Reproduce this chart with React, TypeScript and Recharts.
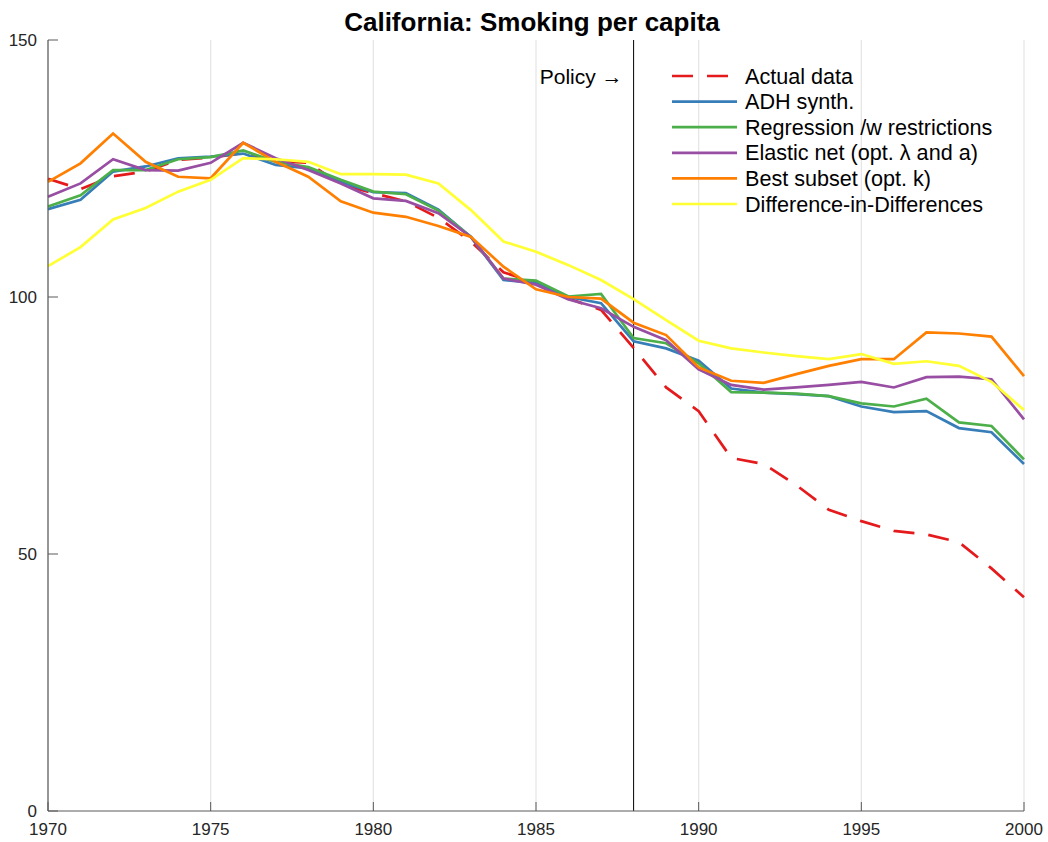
import { LineChart, Line, XAxis, YAxis, CartesianGrid, ReferenceLine, Legend } from "recharts";

const FONT = "'Liberation Sans', Arial, Helvetica, sans-serif";

const years = [
  1970, 1971, 1972, 1973, 1974, 1975, 1976, 1977, 1978, 1979, 1980, 1981, 1982, 1983, 1984, 1985,
  1986, 1987, 1988, 1989, 1990, 1991, 1992, 1993, 1994, 1995, 1996, 1997, 1998, 1999, 2000,
];

// cigarette packs per capita, observed
const actual = [
  123, 121, 123.5, 124.4, 126.7, 127.1, 128, 126.4, 126.1, 121.9, 120.2, 118.6, 115.4, 110.8, 104.8, 102.8,
  99.7, 97.5, 90.1, 82.4, 77.8, 68.7, 67.5, 63.4, 58.6, 56.4, 54.5, 53.8, 52.3, 47.2, 41.6,
];

const adhSynth = [
  117.1, 118.9, 124.4, 125.4, 127.0, 127.3, 127.9, 125.7, 125.0, 122.4, 120.4, 120.2, 117.0, 111.7, 103.3, 102.7,
  100.0, 98.8, 91.4, 90.0, 87.6, 82.2, 81.4, 81.1, 80.7, 78.7, 77.6, 77.8, 74.5, 73.7, 67.5,
];

const regression = [
  117.6, 119.8, 124.7, 124.7, 126.8, 127.2, 128.5, 126.3, 125.3, 122.8, 120.5, 120.0, 116.8, 111.7, 103.6, 103.2,
  100.1, 100.6, 92.0, 91.0, 87.1, 81.5, 81.4, 81.2, 80.7, 79.3, 78.7, 80.2, 75.6, 74.9, 68.4,
];

const elasticNet = [
  119.5, 122.1, 126.8, 124.7, 124.6, 126.1, 130.0, 127.0, 124.7, 122.1, 119.2, 118.7, 116.3, 111.7, 103.6, 102.4,
  99.5, 97.8, 94.2, 91.6, 85.9, 82.9, 82.0, 82.4, 82.9, 83.5, 82.4, 84.4, 84.5, 84.0, 76.2,
];

const bestSubset = [
  122.4, 126.0, 131.8, 126.3, 123.4, 123.1, 130.0, 126.3, 123.4, 118.6, 116.4, 115.6, 113.8, 111.7, 105.9, 101.5,
  100.0, 99.7, 95.0, 92.6, 86.3, 83.7, 83.3, 85.0, 86.6, 87.9, 87.9, 93.1, 92.9, 92.3, 84.6,
];

const diffInDiff = [
  106.0, 109.7, 115.1, 117.3, 120.5, 122.8, 127.0, 126.8, 126.3, 123.9, 123.9, 123.8, 122.1, 116.9, 110.8, 108.8,
  106.2, 103.3, 99.6, 95.5, 91.5, 90.0, 89.2, 88.5, 87.9, 88.9, 87.0, 87.5, 86.6, 83.5, 78.0,
];

const xTicks = [1970, 1975, 1980, 1985, 1990, 1995, 2000];
const yTicks = [0, 50, 100, 150];
const policyYear = 1988;

const series = [
  { key: "actual", name: "Actual data", color: "#e41a1c", dash: "21 14" },
  { key: "adh", name: "ADH synth.", color: "#377eb8" },
  { key: "regression", name: "Regression /w restrictions", color: "#4daf4a" },
  { key: "elastic", name: "Elastic net (opt. λ and a)", color: "#984ea3" },
  { key: "best", name: "Best subset (opt. k)", color: "#ff7f00" },
  { key: "did", name: "Difference-in-Differences", color: "#ffff33" },
];

const rows = years.map((year, i) => ({
  year,
  actual: actual[i],
  adh: adhSynth[i],
  regression: regression[i],
  elastic: elasticNet[i],
  best: bestSubset[i],
  did: diffInDiff[i],
}));

const AXIS = "#5a5a5a";
const TEXT = "#262626";

const XTick = ({ x, y, payload }: any) => (
  <g>
    <line x1={x} x2={x} y1={y} y2={y - 9} stroke={AXIS} />
    <text x={x} y={y + 24} textAnchor="middle" fontSize={17} fontFamily={FONT} fill={TEXT}>
      {payload.value}
    </text>
  </g>
);

const YTick = ({ x, y, payload }: any) => (
  <g>
    <line x1={x} x2={x + 10} y1={y} y2={y} stroke={AXIS} />
    <text x={x - 11} y={y + 6} textAnchor="end" fontSize={17} fontFamily={FONT} fill={TEXT}>
      {payload.value}
    </text>
  </g>
);

const PolicyLabel = ({ viewBox }: any) => (
  <text x={viewBox.x - 11} y={viewBox.y + 44} textAnchor="end" fontSize={21} fontFamily={FONT} fill="#000">
    Policy →
  </text>
);

const LegendBox = () => (
  <svg width={380} height={160}>
    {series.map((s, i) => {
      const cy = 14 + i * 25.6;
      return (
        <g key={s.key}>
          <line
            x1={7}
            x2={s.dash ? 65 : 72}
            y1={cy}
            y2={cy}
            stroke={s.color}
            strokeWidth={2.7}
            strokeDasharray={s.dash}
          />
          <text x={80} y={cy + 7.5} fontSize={21.6} fontFamily={FONT} fill="#000">
            {s.name}
          </text>
        </g>
      );
    })}
  </svg>
);

export default function App() {
  return (
    <div style={{ position: "absolute", left: 0, top: 0, width: 1048, height: 842, background: "#fff" }}>
      <svg width={1048} height={40} style={{ position: "absolute", left: 0, top: 0 }}>
        <text x={532} y={31} textAnchor="middle" fontSize={26} fontWeight="bold" fontFamily={FONT} fill="#000">
          California: Smoking per capita
        </text>
      </svg>
      <LineChart width={1048} height={842} data={rows} margin={{ top: 40, right: 24, bottom: 0, left: 0 }}>
        <CartesianGrid vertical horizontal={false} stroke="#e4e4e4" strokeWidth={1.2} verticalValues={xTicks} />
        <XAxis
          dataKey="year"
          type="number"
          domain={[1970, 2000]}
          ticks={xTicks}
          height={31}
          tickSize={0}
          tickMargin={0}
          tickLine={false}
          tick={(p: any) => <XTick {...p} />}
          axisLine={{ stroke: AXIS, strokeWidth: 1.2 }}
        />
        <YAxis
          type="number"
          domain={[0, 150]}
          ticks={yTicks}
          width={48}
          tickSize={0}
          tickMargin={0}
          tickLine={false}
          tick={(p: any) => <YTick {...p} />}
          axisLine={{ stroke: AXIS, strokeWidth: 1.2 }}
        />
        <ReferenceLine x={policyYear} stroke="#000" strokeWidth={1} label={<PolicyLabel />} />
        {series.map((s) => (
          <Line
            key={s.key}
            type="linear"
            dataKey={s.key}
            name={s.name}
            stroke={s.color}
            strokeWidth={2.7}
            strokeDasharray={s.dash}
            dot={false}
            activeDot={false}
            isAnimationActive={false}
          />
        ))}
        <Legend
          layout="vertical"
          align="center"
          verticalAlign="middle"
          content={() => <LegendBox />}
          wrapperStyle={{ left: 665, top: 62, width: 380, height: 160 }}
        />
      </LineChart>
    </div>
  );
}
